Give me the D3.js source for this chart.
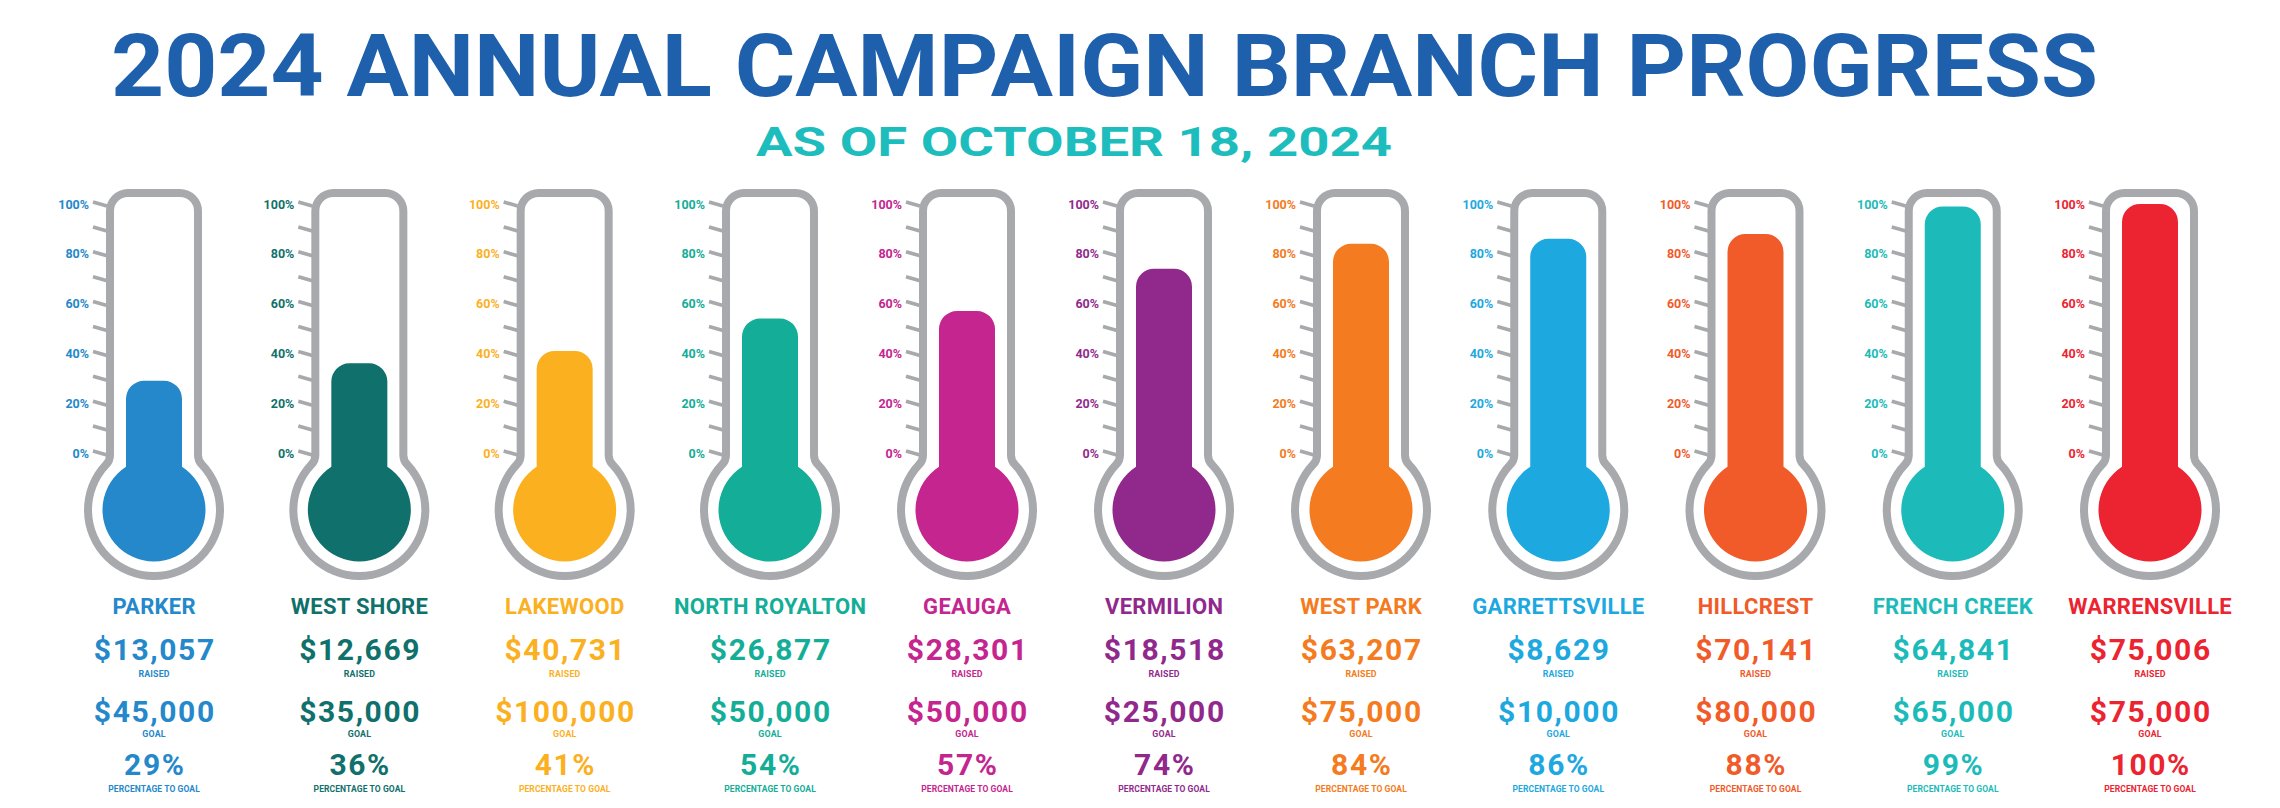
<!DOCTYPE html>
<html>
<head>
<meta charset="utf-8">
<script src="https://cdn.jsdelivr.net/npm/d3@7"></script>
<style>
  html, body { margin: 0; padding: 0; background: #ffffff; }
  svg { display: block; }
  text { font-family: Roboto, "Open Sans", "DejaVu Sans", sans-serif; font-weight: 700; }
</style>
</head>
<body>
<svg id="chart" width="2280" height="808"></svg>
<script>
// ---------------- DATA ----------------
const titleText = "2024 ANNUAL CAMPAIGN BRANCH PROGRESS";
const subtitleText = "AS OF OCTOBER 18, 2024";
const branches = ["PARKER", "WEST SHORE", "LAKEWOOD", "NORTH ROYALTON", "GEAUGA", "VERMILION",
                  "WEST PARK", "GARRETTSVILLE", "HILLCREST", "FRENCH CREEK", "WARRENSVILLE"];
const raised = [13057, 12669, 40731, 26877, 28301, 18518, 63207, 8629, 70141, 64841, 75006];
const goals  = [45000, 35000, 100000, 50000, 50000, 25000, 75000, 10000, 80000, 65000, 75000];
const pctToGoal = [29, 36, 41, 54, 57, 74, 84, 86, 88, 99, 100];
const branchColors = ["#2488CA", "#10706B", "#FBB01F", "#14AD97", "#C4258F", "#91298C",
                      "#F47B20", "#1DA8E0", "#F15A29", "#1CBBB9", "#EC2330"];
const minorTicks = [0, 10, 20, 30, 40, 50, 60, 70, 80, 90, 100];
const tickLabels = [0, 20, 40, 60, 80, 100];
const captionRaised = "RAISED";
const captionGoal = "GOAL";
const captionPct = "PERCENTAGE TO GOAL";

// ---------------- LAYOUT ----------------
const svg = d3.select("#chart");
const gray = "#A7A9AC";
const titleBlue = "#1F60AD";
const subtitleTeal = "#1DBDBE";

// horizontal position of each thermometer (piecewise to follow the poster's spacing)
const x = d3.scaleLinear().domain([0, 3, 6, 10]).range([154, 770, 1361, 2150]);
// vertical scale of the tube, 0%..100%
const y = d3.scaleLinear().domain([0, 100]).range([453, 204]);

const bulbCy = 510;
const tubeTop = 189;
const outerW = 48, outerR = 70, outerRc = 22, fil = 10, wall = 8;
const liqW = 28, liqR = 51.5, liqRc = 18;

// outline path: tube with rounded top, joining a bulb circle, optional fillets
function thermoPath(cx, cy, w, R, top, rc, f) {
  let fy, bx, by;
  if (f > 0) {
    const fcx = w + f;
    fy = cy - Math.sqrt((R + f) * (R + f) - fcx * fcx);
    const dx = fcx, dy = cy - fy, len = Math.sqrt(dx * dx + dy * dy);
    bx = -(dx / len) * R; by = -(dy / len) * R; // relative to bulb centre
  } else {
    fy = cy - Math.sqrt(R * R - w * w);
    bx = -w; by = fy - cy;
  }
  const parts = [];
  parts.push(`M${cx - w},${top + rc}`);
  parts.push(`L${cx - w},${fy}`);
  if (f > 0) parts.push(`A${f},${f} 0 0 1 ${cx + bx},${cy + by}`);
  parts.push(`A${R},${R} 0 1 0 ${cx - bx},${cy + by}`);
  if (f > 0) parts.push(`A${f},${f} 0 0 1 ${cx + w},${fy}`);
  parts.push(`L${cx + w},${top + rc}`);
  parts.push(`A${rc},${rc} 0 0 0 ${cx + w - rc},${top}`);
  parts.push(`L${cx - w + rc},${top}`);
  parts.push(`A${rc},${rc} 0 0 0 ${cx - w},${top + rc}`);
  parts.push("Z");
  return parts.join(" ");
}

// ---------------- TITLE ----------------
svg.append("text")
  .attr("x", 111).attr("y", 96)
  .attr("font-size", 88)
  .attr("fill", titleBlue)
  .attr("textLength", 1987)
  .attr("lengthAdjust", "spacingAndGlyphs")
  .text(titleText);

svg.append("text")
  .attr("x", 756).attr("y", 156)
  .attr("font-size", 41)
  .attr("fill", subtitleTeal)
  .attr("textLength", 636)
  .attr("lengthAdjust", "spacingAndGlyphs")
  .text(subtitleText);

// ---------------- THERMOMETERS ----------------
const fmtMoney = d3.format("$,");
const data = branches.map((b, i) => ({
  name: b, raised: raised[i], goal: goals[i], pct: pctToGoal[i], color: branchColors[i], i
}));

const g = svg.selectAll("g.thermo").data(data).join("g").attr("class", "thermo");

g.each(function(d) {
  const sel = d3.select(this);
  const cx = x(d.i);

  // ticks (slanted) and labels
  sel.selectAll("line.tick").data(minorTicks).join("line")
    .attr("class", "tick")
    .attr("x1", cx - outerW - 13).attr("y1", t => y(t) - 2)
    .attr("x2", cx - outerW + 1).attr("y2", t => y(t) + 2)
    .attr("stroke", gray).attr("stroke-width", 3.6);

  sel.selectAll("text.tl").data(tickLabels).join("text")
    .attr("class", "tl")
    .attr("x", cx - outerW - 17)
    .attr("y", t => y(t))
    .attr("dy", "0.36em")
    .attr("text-anchor", "end")
    .attr("font-size", 12.5)
    .attr("fill", d.color)
    .text(t => t + "%");

  // gray glass
  sel.append("path")
    .attr("d", thermoPath(cx, bulbCy, outerW, outerR, tubeTop, outerRc, fil))
    .attr("fill", gray);
  // white interior
  sel.append("path")
    .attr("d", thermoPath(cx, bulbCy, outerW - wall, outerR - wall, tubeTop + wall, outerRc - wall, fil + wall))
    .attr("fill", "#ffffff");
  // liquid
  sel.append("path")
    .attr("d", thermoPath(cx, bulbCy, liqW, liqR, y(d.pct), liqRc, 0))
    .attr("fill", d.color);

  // text block
  const lines = [
    { t: d.name, y: 614, s: 22, ls: 0.3 },
    { t: fmtMoney(d.raised), y: 660, s: 30, ls: 1.6 },
    { t: captionRaised, y: 677, s: 8.8, ls: 0.2 },
    { t: fmtMoney(d.goal), y: 722, s: 30, ls: 1.6 },
    { t: captionGoal, y: 737, s: 8.8, ls: 0.2 },
    { t: d.pct + "%", y: 775, s: 30, ls: 1.6 },
    { t: captionPct, y: 792, s: 8.5, ls: 0.1 }
  ];
  sel.selectAll("text.lbl").data(lines).join("text")
    .attr("class", "lbl")
    .attr("x", l => cx + l.ls / 2)
    .attr("y", l => l.y)
    .attr("text-anchor", "middle")
    .attr("font-size", l => l.s)
    .attr("letter-spacing", l => l.ls)
    .attr("fill", d.color)
    .text(l => l.t);
});
</script>
</body>
</html>
